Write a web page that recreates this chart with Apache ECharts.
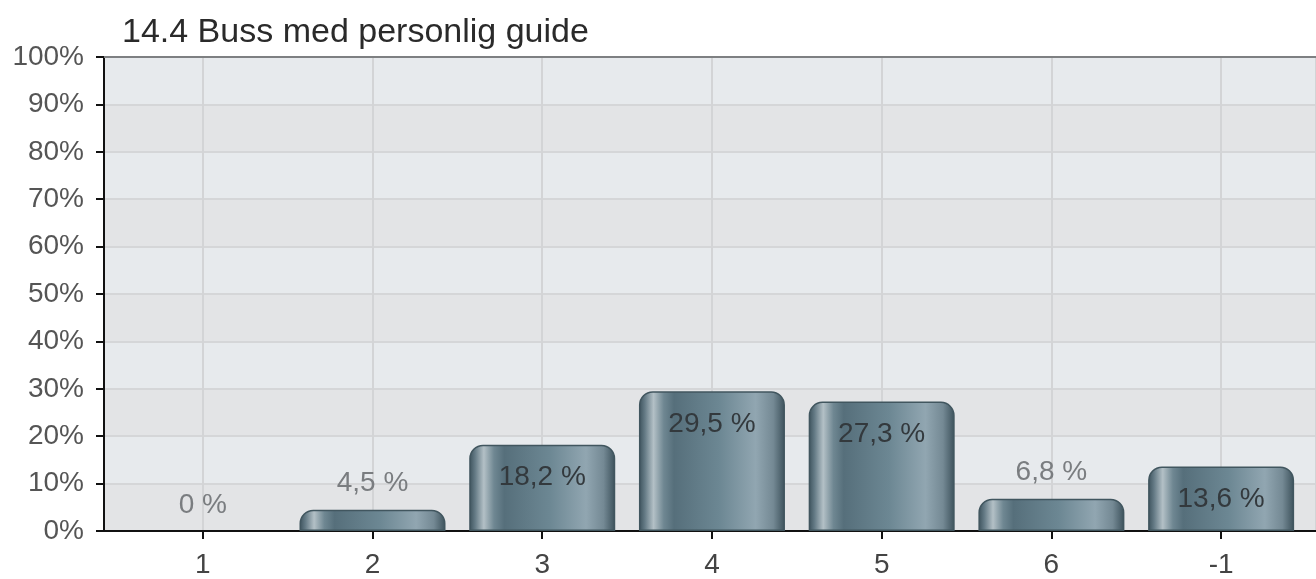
<!DOCTYPE html>
<html>
<head>
<meta charset="utf-8">
<script src="https://cdn.jsdelivr.net/npm/echarts@6/dist/echarts.min.js"></script>
<style>
  html, body { margin: 0; padding: 0; background: #fff; }
  #chart { width: 1316px; height: 579px; }
</style>
</head>
<body>
<div id="chart"></div>
<script>
// data
const categories = ["1", "2", "3", "4", "5", "6", "-1"]
const percentValues = [0, 4.5, 18.2, 29.5, 27.3, 6.8, 13.6]
const yTicks = [0, 10, 20, 30, 40, 50, 60, 70, 80, 90, 100]

const FONT = "'Liberation Sans', Arial, sans-serif"
// labels go inside the bar once it is tall enough
const insideFrom = 10

const barGradient = new echarts.graphic.LinearGradient(0, 0, 1, 0, [
  { offset: 0, color: "#3c515b" },
  { offset: 0.04, color: "#647a85" },
  { offset: 0.1, color: "#b3c0c6" },
  { offset: 0.17, color: "#6f8792" },
  { offset: 0.24, color: "#566f7b" },
  { offset: 0.55, color: "#6c8793" },
  { offset: 0.8, color: "#91a6b1" },
  { offset: 0.92, color: "#748994" },
  { offset: 1, color: "#3c515b" }
])

const fmt = (v) => String(v).replace(".", ",") + " %"

const barData = percentValues.map((v, i) => {
  const inside = v >= insideFrom
  return {
    value: [i, v],
    itemStyle: v === 0 ? { borderWidth: 0 } : {},
    label: inside
      ? { position: "insideTop", distance: 19, color: "#33393d" }
      : { position: "top", distance: 12, color: "#7a7d80" }
  }
})

const xRange = { min: -0.582, max: 6.559 } // centres 170px apart, first one 99px inside the plot

const chart = echarts.init(document.getElementById("chart"), null, { renderer: "canvas" })
chart.setOption({
  animation: false,
  backgroundColor: "#ffffff",
  title: {
    text: "14.4 Buss med personlig guide",
    left: 117,
    top: 11,
    textStyle: { fontFamily: FONT, fontSize: 34, fontWeight: "normal", color: "#2a2a2a" }
  },
  grid: {
    left: 104,
    right: -2,
    top: 57,
    bottom: 47
  },
  xAxis: [
    {
      type: "value",
      min: xRange.min,
      max: xRange.max,
      splitNumber: 7,
      axisLine: { show: true, onZero: false, lineStyle: { color: "#111", width: 2 } },
      axisTick: { show: true, length: 8, lineStyle: { color: "#111", width: 2 } },
      axisLabel: {
        showMinLabel: false,
        showMaxLabel: false,
        margin: 20,
        fontFamily: FONT,
        fontSize: 28,
        color: "#444",
        formatter: (v) => (Number.isInteger(v) && categories[v] !== undefined ? categories[v] : "")
      },
      splitLine: { show: true, lineStyle: { color: "#d3d4d6", width: 2 } }
    },
    {
      // just the darker frame line along the top of the plot
      type: "value",
      position: "top",
      min: xRange.min,
      max: xRange.max,
      axisLine: { show: true, onZero: false, lineStyle: { color: "#7e8082", width: 2 } },
      axisTick: { show: false },
      axisLabel: { show: false },
      splitLine: { show: false }
    }
  ],
  yAxis: {
    type: "value",
    min: yTicks[0],
    max: yTicks[yTicks.length - 1],
    interval: 10,
    axisLine: { show: true, onZero: false, lineStyle: { color: "#111", width: 2 } },
    axisTick: { show: true, length: 8, lineStyle: { color: "#111", width: 2 } },
    axisLabel: {
      margin: 20,
      fontFamily: FONT,
      fontSize: 28,
      color: "#555",
      formatter: "{value}%"
    },
    splitLine: { show: true, lineStyle: { color: "#d5d6d8", width: 2 } },
    splitArea: { show: true, areaStyle: { color: ["#e3e4e6", "#e7eaed"] } }
  },
  series: [
    {
      type: "bar",
      barWidth: 146,
      data: barData,
      itemStyle: {
        color: barGradient,
        borderRadius: [13, 13, 0, 0],
        borderColor: "#41565f",
        borderWidth: 1.5
      },
      label: {
        show: true,
        fontFamily: FONT,
        fontSize: 28,
        formatter: (p) => fmt(p.value[1])
      }
    }
  ]
})
</script>
</body>
</html>
